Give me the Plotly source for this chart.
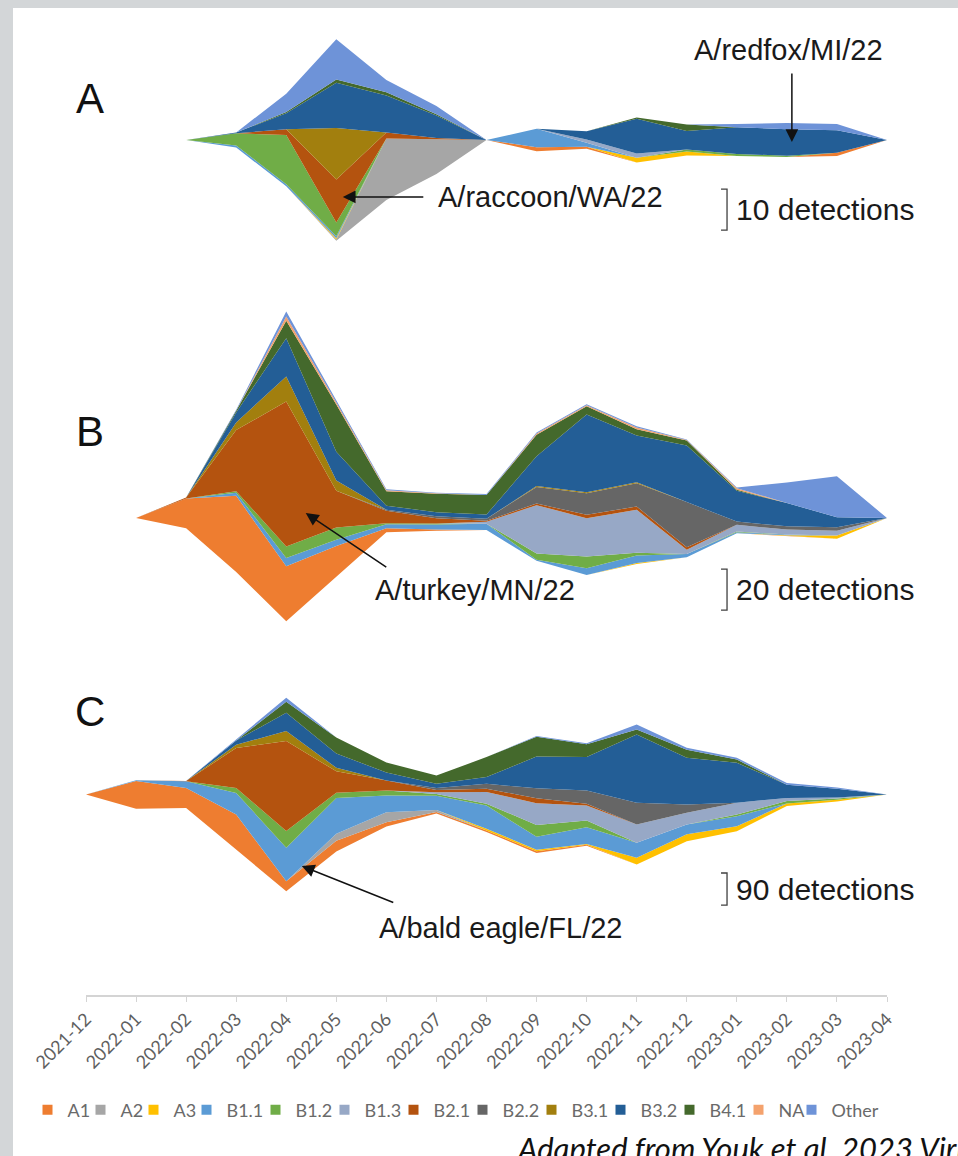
import plotly.graph_objects as go

months = ["2021-12", "2022-01", "2022-02", "2022-03", "2022-04", "2022-05", "2022-06",
          "2022-07", "2022-08", "2022-09", "2022-10", "2022-11", "2022-12", "2023-01",
          "2023-02", "2023-03", "2023-04"]

lineages = ["A1", "A2", "A3", "B1.1", "B1.2", "B1.3", "B2.1", "B2.2", "B3.1", "B3.2", "B4.1", "NA", "Other"]

colors = ["#EE7D30", "#A6A6A6", "#FFC000", "#5B9BD5", "#70AD47", "#97A8C6", "#B4530F",
          "#666666", "#A27F0E", "#235E96", "#44692C", "#F4A26D", "#6E93D8"]

# Panel A: mammals (detections per month, rows follow `lineages`)
counts_A = [
    [0, 0, 0, 0, 0, 0, 0, 0, 0, 1, 0.5, 0, 0, 0, 0, 0.8, 0],          # A1
    [0, 0, 0, 0, 0, 0.3, 15, 8.5, 0, 0, 0, 0, 0, 0, 0, 0, 0],         # A2
    [0, 0, 0, 0, 0, 0.3, 0, 0, 0, 0, 0, 1.2, 1, 0, 0, 0, 0],          # A3
    [0, 0, 0, 0.5, 0.5, 0.5, 0, 0, 0, 4.5, 1, 0, 0, 0, 0, 0, 0],      # B1.1
    [0, 0, 0, 3, 12, 3.3, 0, 0, 0, 0, 0, 0, 0.5, 0.5, 0.3, 0, 0],     # B1.2
    [0, 0, 0, 0, 0, 0, 0, 0, 0, 0, 0.8, 1, 0, 0, 0, 0, 0],            # B1.3
    [0, 0, 0, 0, 1.4, 10.5, 1.5, 0.3, 0, 0, 0, 0, 0, 0, 0, 0, 0],     # B2.1
    [0, 0, 0, 0, 0, 0, 0, 0, 0, 0, 0, 0, 0, 0, 0, 0, 0],              # B2.2
    [0, 0, 0, 0, 0, 12.6, 0, 0, 0, 0, 0, 0, 0, 0, 0, 0, 0],           # B3.1
    [0, 0, 0, 0.2, 3.9, 11, 9, 5.5, 0, 0, 2, 8.5, 4.5, 6.5, 6.5, 5.5, 0],  # B3.2
    [0, 0, 0, 0, 0.3, 0.8, 0.8, 0.3, 0, 0, 0, 0.3, 1.6, 0, 0, 0, 0],  # B4.1
    [0, 0, 0, 0, 0, 0, 0, 0, 0, 0, 0, 0, 0, 0, 0, 0, 0],              # NA
    [0, 0, 0, 0, 4.5, 9.8, 3, 2, 0, 0, 0, 0, 0, 0.8, 1.5, 1.5, 0],    # Other
]

# Panel B: domestic birds
counts_B = [
    [0, 0, 14.5, 37.2, 26.8, 15, 2, 0.5, 0, 0, 0, 0, 0, 0, 0, 0, 0],            # A1
    [0, 0, 0, 0, 0, 0, 0, 0, 0, 0, 0, 0, 0, 0, 0, 0, 0],                        # A2
    [0, 0, 0, 0, 0, 0, 0, 0, 0, 0, 0, 0.5, 0, 0, 0.3, 1.6, 0],                  # A3
    [0, 0, 0, 1.5, 4, 3, 2, 2.5, 3, 0.5, 3.3, 3.6, 1.6, 0.5, 0.3, 0, 0],        # B1.1
    [0, 0, 0, 0.8, 5.7, 6, 0.5, 0.5, 0, 3, 5.7, 1.3, 0, 0.3, 0, 0, 0],          # B1.2
    [0, 0, 0, 0, 0, 0, 0, 0, 1, 23.6, 18.7, 21, 2, 3.3, 2.4, 2.4, 0],           # B1.3
    [0, 0, 0.5, 29.8, 70.7, 18, 6, 2.5, 0.5, 0.8, 1.6, 1.6, 1.3, 0, 0, 0, 0],   # B2.1
    [0, 0, 0, 0, 0, 0, 0.5, 1, 1, 8, 10.5, 11.4, 22, 1.6, 1.6, 1.6, 0],         # B2.2
    [0, 0, 0, 3.7, 12.2, 5, 0, 0, 0, 0.5, 0.5, 0.5, 0, 0, 0, 0, 0],             # B3.1
    [0, 0, 0, 4.9, 18.7, 14, 2, 2, 2, 14.6, 38, 22.8, 27.6, 15, 11.4, 4.9, 0],  # B3.2
    [0, 0, 0, 0.8, 8.5, 23, 7, 9, 9.5, 10.5, 4, 3, 2.4, 0.5, 0, 0, 0],          # B4.1
    [0, 0, 0, 0, 2, 1, 0.5, 0.3, 0, 0.5, 0.5, 0.8, 0.3, 0.8, 0, 0, 0],          # NA
    [0, 0, 0, 0.5, 2.5, 1, 0.5, 0.2, 0.5, 0.5, 0.5, 0.7, 0.2, 0.3, 10, 20, 0],  # Other
]

# Panel C: wild birds
counts_C = [
    [0, 78, 56, 98, 28, 30, 12, 4, 4, 5, 3, 0, 0, 0, 0, 0, 0],                  # A1
    [0, 0, 0, 0, 0, 20, 28, 6, 0, 0, 0, 0, 0, 0, 0, 0, 0],                      # A2
    [0, 0, 0, 0, 0, 0, 0, 0, 5, 4, 2, 19, 19, 14, 7, 5, 0],                     # A3
    [0, 2, 19, 61, 94, 100, 47, 40, 65, 37, 47, 42, 28, 28, 0, 0, 0],           # B1.1
    [0, 0, 0, 14, 47, 15, 14, 5, 5, 33, 19, 0, 0, 5, 7, 3, 0],                  # B1.2
    [0, 0, 0, 0, 0, 0, 0, 5, 33, 61, 42, 51, 33, 33, 9, 3, 0],                  # B1.3
    [0, 0, 1, 112, 253, 60, 28, 6, 9, 14, 5, 0, 0, 0, 0, 0, 0],                 # B2.1
    [0, 0, 0, 0, 0, 0, 0, 6, 14, 28, 37, 61, 23, 0, 0, 0, 0],                   # B2.2
    [0, 0, 0, 9, 28, 10, 0, 0, 0, 0, 0, 0, 0, 0, 0, 0, 0],                      # B3.1
    [0, 0, 0, 12, 51, 40, 23, 12, 19, 89, 94, 192, 131, 112, 37, 25, 0],        # B3.2
    [0, 0, 0, 0, 31, 45, 28, 23, 56, 56, 36, 14, 23, 9, 0, 0, 0],               # B4.1
    [0, 0, 0, 0, 0, 0, 0, 0, 0, 0, 0, 0, 0, 0, 0, 0, 0],                        # NA
    [0, 0, 0, 3, 11, 0, 0, 0, 0, 2, 3, 14, 5, 5, 5, 3, 0],                      # Other
]

# fraction of each month's total placed below the zero line (stream baseline)
baseline_frac = {"A": 0.5, "B": 1 / 3, "C": 0.5}

# ---------------------------------------------------------------- layout geometry
W, H = 958, 1156
ML, MR, MT, MB = 86, 71, 0, 161
PH = H - MT - MB          # plot height in px
PW = W - ML - MR

# zero-line pixel (from top) and px per detection for each panel
panel_geom = {"A": (140, 4.1), "B": (518, 2.05), "C": (794.5, 0.356)}
axis_of = {"A": "y", "B": "y2", "C": "y3"}


def px(x):
    return (x - ML) / PW


def py(y):
    return (PH + MT - y) / PH


fig = go.Figure()

for panel, counts in (("A", counts_A), ("B", counts_B), ("C", counts_C)):
    totals = [sum(col) for col in zip(*counts)]
    base = [-baseline_frac[panel] * t for t in totals]
    fig.add_trace(go.Scatter(
        x=months, y=base, stackgroup=panel, yaxis=axis_of[panel], mode="lines",
        line=dict(width=0, color="rgba(0,0,0,0)"), fillcolor="rgba(0,0,0,0)",
        showlegend=False, hoverinfo="skip"))
    for name, color, vals in zip(lineages, colors, counts):
        fig.add_trace(go.Scatter(
            x=months, y=vals, stackgroup=panel, yaxis=axis_of[panel], mode="lines",
            line=dict(width=0, color=color), fillcolor=color,
            name=name, showlegend=False))

# legend entries (square swatches)
legend_widths = [8 * len(n) - 8 for n in lineages]
legend_widths[-1] = 55
for name, color, lw in zip(lineages, colors, legend_widths):
    fig.add_trace(go.Scatter(x=[None], y=[None], mode="markers", name=name,
                             marker=dict(symbol="square", size=10, color=color),
                             legendwidth=lw))


def yrange(panel):
    c, s = panel_geom[panel]
    hi = (c - MT) / s
    return [hi - PH / s, hi]


hidden = dict(visible=False, fixedrange=True, domain=[0, 1])
SANS = "Liberation Sans, Arial, sans-serif"

annotations = []

# panel letters
for letter, (lx, ly) in {"A": (90, 99), "B": (90, 431), "C": (90, 711)}.items():
    annotations.append(dict(text=letter, x=px(lx), y=py(ly), xref="paper", yref="paper",
                            showarrow=False, xanchor="center", yanchor="middle",
                            font=dict(family=SANS, size=42, color="#111")))

# strain labels
for label, (tx, ty) in {"A/raccoon/WA/22": (550, 197), "A/redfox/MI/22": (788, 50),
                        "A/turkey/MN/22": (475, 590), "A/bald eagle/FL/22": (500, 928)}.items():
    annotations.append(dict(text=label, x=px(tx), y=py(ty), xref="paper", yref="paper",
                            showarrow=False, xanchor="center", yanchor="middle",
                            font=dict(family=SANS, size=29, color="#1a1a1a")))

# arrows (head in panel data units, tail as pixel offset)
arrows = [("A", 5.13, -13.9, 82, 0), ("A", 14.1, -0.5, 0, -70),
          ("B", 4.39, 2.4, 82, 55), ("C", 4.31, -201, 93, 37)]
for panel, hx, hy, ax, ay in arrows:
    annotations.append(dict(text="", x=hx, y=hy, xref="x", yref=axis_of[panel],
                            showarrow=True, ax=ax, ay=ay, axref="pixel", ayref="pixel",
                            arrowhead=2, arrowsize=1.7, arrowwidth=1.5, arrowcolor="#111",
                            standoff=0, startstandoff=0))

# scale bars
scale_bars = [("A", 10, -12.0, "10 detections"), ("B", 20, -24.9, "20 detections"),
              ("C", 90, -220.5, "90 detections")]
shapes = []
bx = (727 - ML) / 50.06
for panel, size, top, label in scale_bars:
    bottom = top - size
    shapes.append(dict(type="path", xref="x", yref=axis_of[panel],
                       path=f"M {bx - 0.12},{top} L {bx},{top} L {bx},{bottom} L {bx - 0.12},{bottom}",
                       line=dict(color="#404040", width=1.3)))
    annotations.append(dict(text=label, x=bx + 0.14, y=(top + bottom) / 2, xref="x",
                            yref=axis_of[panel], showarrow=False, xanchor="left",
                            yanchor="middle", font=dict(family=SANS, size=30, color="#1a1a1a")))

# credit
annotations.append(dict(text="<i>Adapted from Youk et al. 2023 Viruses</i>", x=px(515), y=py(1127),
                        xref="paper", yref="paper", showarrow=False, xanchor="left", yanchor="top",
                        font=dict(family="Lato, sans-serif", size=31, color="#111")))

# white slide area over grey frame
shapes.append(dict(type="rect", xref="paper", yref="paper", layer="below",
                   x0=px(13), x1=px(W + 5), y0=py(H + 5), y1=py(8),
                   fillcolor="white", line=dict(width=0)))

fig.update_layout(
    width=W, height=H, autosize=False,
    margin=dict(l=ML, r=MR, t=MT, b=MB, pad=0),
    paper_bgcolor="#D3D6D8", plot_bgcolor="rgba(0,0,0,0)",
    showlegend=True,
    legend=dict(orientation="h", x=px(27.5), y=py(1110), xanchor="left", yanchor="middle",
                font=dict(family="Lato, sans-serif", size=18, color="#6A6A6A"),
                itemwidth=30, bgcolor="rgba(0,0,0,0)", traceorder="normal",
                tracegroupgap=0),
    xaxis=dict(type="category", range=[0, 16], showline=True, linecolor="#D4D4D4", linewidth=1.5,
               ticks="outside", ticklen=5, tickcolor="#D4D4D4", tickwidth=1.3, tickangle=-45,
               tickfont=dict(family="Lato, sans-serif", size=18, color="#5f5f5f"),
               showgrid=False, zeroline=False, fixedrange=True, anchor="y"),
    yaxis=dict(range=yrange("A"), **hidden),
    yaxis2=dict(range=yrange("B"), overlaying="y", **hidden),
    yaxis3=dict(range=yrange("C"), overlaying="y", **hidden),
    annotations=annotations, shapes=shapes,
)

fig.write_html("out.html", config={"displayModeBar": False},
               post_script="document.body.style.margin='0px';document.body.style.overflow='hidden';")
